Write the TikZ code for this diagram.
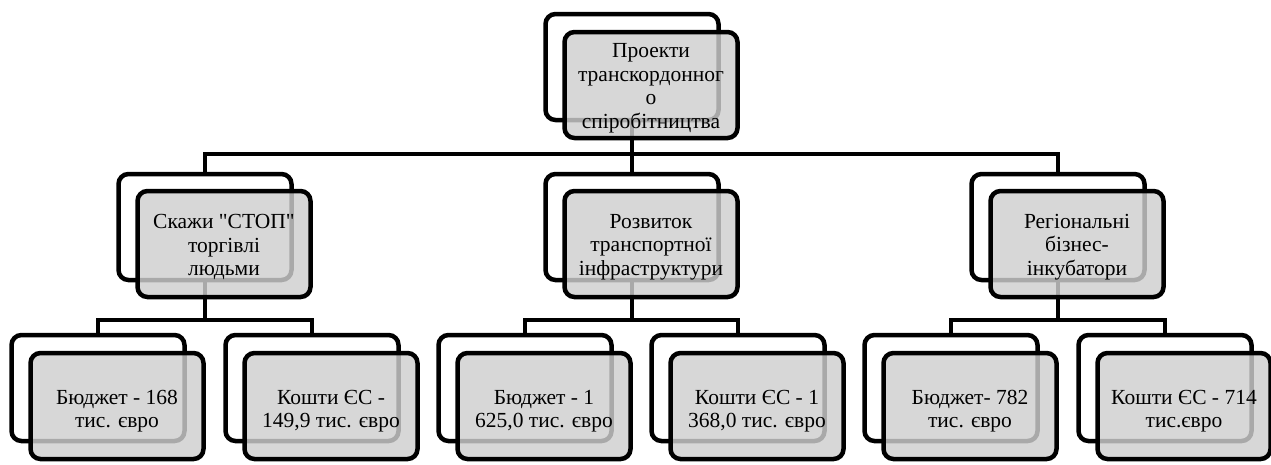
\documentclass[tikz,border=0pt]{standalone}
\usepackage{fontspec}
\setmainfont{Liberation Serif}
\newfontfamily\boxfont{Liberation Serif}
\usetikzlibrary{calc}
\definecolor{frontfill}{gray}{0.81}
\begin{document}
\begin{tikzpicture}[x=1pt,y=-1pt,
  back/.style={draw=black, line width=4.5pt, rounded corners=10pt, fill=white,
    minimum width=173pt, minimum height=106pt, inner sep=0pt},
  front/.style={draw=black, line width=4.5pt, rounded corners=10pt, fill=frontfill,
    fill opacity=0.82, draw opacity=1,
    minimum width=173pt, minimum height=106pt, inner sep=0pt},
  label/.style={inner sep=0pt, align=center,
    font=\boxfont\fontsize{21.5}{23.5}\selectfont},
  conn/.style={draw=black, line width=4.5pt}]
\fill[white] (0,0) rectangle (1271,464);
\useasboundingbox (0,0) rectangle (1271,464);
\coordinate (h1) at (0,154);
\coordinate (h2) at (0,320);
% back boxes
\node[back] (bT) at (632,67) {};
\node[back] (bL) at (205,227) {};
\node[back] (bM) at (632,227) {};
\node[back] (bR) at (1058,227) {};
\node[back] (bL1) at (98,388) {};
\node[back] (bL2) at (312,388) {};
\node[back] (bM1) at (525,388) {};
\node[back] (bM2) at (738,388) {};
\node[back] (bR1) at (951,388) {};
\node[back] (bR2) at (1165,388) {};
% connectors
\draw[conn] (bT.south) -- (bM.north);
\draw[conn] (bL.north) -- (bL.north |- h1) -- (bR.north |- h1) -- (bR.north);
\foreach \p/\a/\b in {bL/bL1/bL2, bM/bM1/bM2, bR/bR1/bR2} {
  \draw[conn] (\p.south) -- (\p.south |- h2);
  \draw[conn] (\a.north) -- (\a.north |- h2) -- (\b.north |- h2) -- (\b.north);
}
% front boxes
\node[front] (fT) at ($(bT)+(19,18)$) {};
\node[front] (fL) at ($(bL)+(19,17)$) {};
\node[front] (fM) at ($(bM)+(19,17)$) {};
\node[front] (fR) at ($(bR)+(19,17)$) {};
\node[front] (fL1) at ($(bL1)+(19,18)$) {};
\node[front] (fL2) at ($(bL2)+(19,18)$) {};
\node[front] (fM1) at ($(bM1)+(19,18)$) {};
\node[front] (fM2) at ($(bM2)+(19,18)$) {};
\node[front] (fR1) at ($(bR1)+(19,18)$) {};
\node[front] (fR2) at ($(bR2)+(19,18)$) {};
% texts
\node[label] (tT) at ($(fT)+(0,3)$) {Проекти\\транскордонног\\о\\спіробітництва};
\node[label] (tL) at ($(fL)+(0,3)$) {Скажи "СТОП"\\торгівлі\\людьми};
\node[label] (tM) at ($(fM)+(0,3)$) {Розвиток\\транспортної\\інфраструктури};
\node[label] (tR) at ($(fR)+(0,3)$) {Регіональні\\бізнес-\\інкубатори};
\node[label] (tL1) at ($(fL1)+(0,5)$) {Бюджет - 168\\тис. євро};
\node[label] (tL2) at ($(fL2)+(0,5)$) {Кошти ЄС -\\149,9 тис. євро};
\node[label] (tM1) at ($(fM1)+(0,5)$) {Бюджет - 1\\625,0 тис. євро};
\node[label] (tM2) at ($(fM2)+(0,5)$) {Кошти ЄС - 1\\368,0 тис. євро};
\node[label] (tR1) at ($(fR1)+(0,5)$) {Бюджет- 782\\тис. євро};
\node[label] (tR2) at ($(fR2)+(0,5)$) {Кошти ЄС - 714\\тис.євро};
\end{tikzpicture}
\end{document}
